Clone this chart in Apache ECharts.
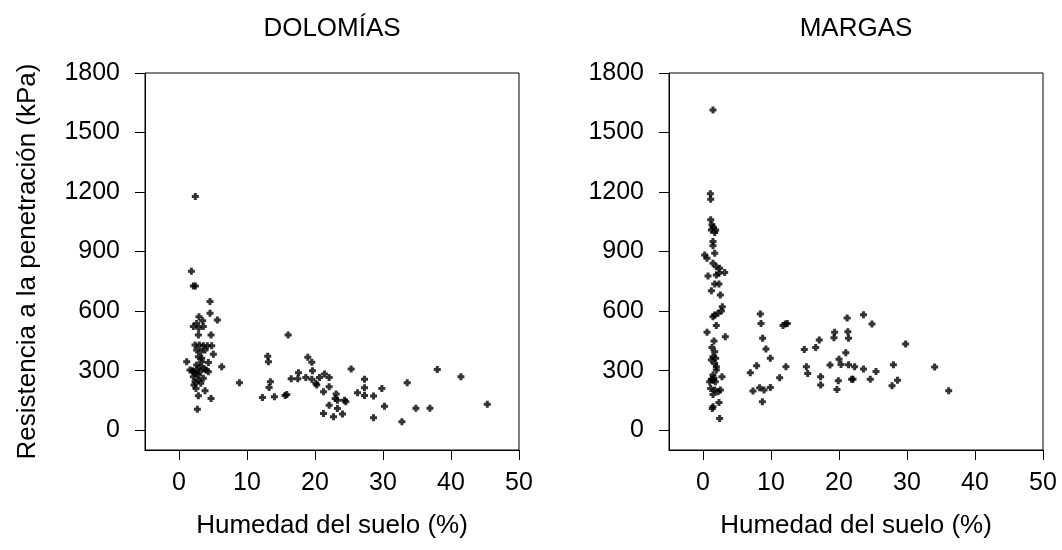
<!DOCTYPE html>
<html>
<head>
<meta charset="utf-8">
<script src="https://cdn.jsdelivr.net/npm/echarts@6/dist/echarts.min.js"></script>
<style>
html,body{margin:0;padding:0;background:#fff;}
#chart{width:1062px;height:550px;}
</style>
</head>
<body>
<div id="chart"></div>
<script>
const panelTitles = ['DOLOMÍAS', 'MARGAS'];
const xAxisTitle = 'Humedad del suelo (%)';
const yAxisTitle = 'Resistencia a la penetración (kPa)';
const xTicks = [0, 10, 20, 30, 40, 50];
const yTicks = [0, 300, 600, 900, 1200, 1500, 1800];

// [humedad %, resistencia kPa]
const dolomias = [
  [2.4,1178],[1.82,801],[2.11,727],[2.4,727],[4.56,648],[4.56,589],[5.64,555],
  [2.94,572],[3.48,552],[2.6,538],[2.11,522],[2.9,513],[3.58,522],[2.85,479],[4.71,479],
  [2.36,429],[2.99,429],[3.58,426],[4.17,426],[4.81,426],[2.6,404],[3.19,395],[3.83,404],
  [5.05,382],[2.85,370],[3.34,362],[1.13,345],[4.32,341],[6.28,320],[2.6,328],[3.09,320],
  [3.68,311],[1.62,303],[2.11,294],[2.6,303],[3.97,303],[4.32,294],[2.11,269],[2.85,278],
  [3.58,261],[2.36,244],[2.85,252],[2.21,227],[2.5,210],[3.83,199],[2.85,173],[4.71,160],
  [2.7,106],[3.09,294],[3.34,345],[2.36,286],[3.2,236],[2.0,300],
  [8.88,239],[12.27,165],[13.05,373],[13.15,345],[13.44,244],[13.25,215],[14.03,168],
  [15.6,175],[15.85,180],[16.05,479],[16.5,259],[17.57,289],[17.47,259],[18.65,266],
  [18.94,367],[19.53,342],[19.63,299],[19.53,256],[20.12,236],[20.26,227],[20.66,266],
  [21.4,283],[22.08,266],[21.25,193],[22.08,219],[23.11,182],[22.96,160],[23.3,151],
  [24.34,151],[24.53,143],[22.08,126],[23.3,109],[21.25,84],[22.72,67],[24.04,81],
  [25.32,308],[26.25,188],[27.28,256],[27.28,214],[27.28,175],[28.61,172],[29.83,210],
  [30.22,121],[28.6,62],[32.78,42],[33.56,239],[34.84,111],[36.9,111],[37.98,306],
  [41.46,269],[45.34,131]
];

const margas = [
  [1.47,1613],[1.08,1191],[1.13,1164],[1.13,1060],[1.32,1035],[1.47,1023],[1.86,1009],
  [1.23,1009],[1.72,996],[1.47,951],[1.47,929],[1.72,892],[0.25,883],[0.59,866],[1.47,841],
  [1.96,824],[2.45,816],[0.74,777],[2.35,791],[3.19,794],[1.96,782],[1.72,737],[2.35,737],
  [1.23,703],[2.55,681],[2.84,622],[2.7,601],[2.21,589],[1.72,580],[1.47,572],[1.96,527],
  [0.59,493],[3.28,471],[1.62,449],[1.32,417],[1.72,395],[1.47,370],[1.86,362],[1.23,353],
  [1.72,336],[1.96,320],[1.96,303],[1.47,278],[2.79,269],[1.23,256],[0.98,244],[1.47,252],
  [1.62,261],[1.81,244],[1.13,210],[1.72,202],[2.55,202],[2.21,193],[1.47,180],[2.35,140],
  [1.47,118],[1.37,109],[2.45,59],
  [6.96,289],[7.35,197],[7.89,325],[8.43,585],[8.53,538],[8.33,214],[8.73,143],[8.97,202],
  [8.77,463],[9.26,409],[9.9,362],[9.9,215],[11.27,264],[11.76,527],[12.1,535],[12.4,538],
  [12.2,320],[14.9,407],[15.2,320],[15.4,286],[16.57,417],[17.1,454],[17.3,269],[17.3,227],
  [18.68,328],[19.36,493],[19.26,466],[19.7,205],[19.9,249],[20,357],[20.3,331],[21,390],
  [21.2,565],[21.3,496],[21.4,463],[21.4,330],[21.86,257],[22.06,257],[22.3,320],[23.6,582],
  [23.6,308],[24.6,257],[24.85,535],[25.44,296],[27.8,224],[28,330],[28.6,251],[29.8,434],
  [34.07,318],[36.13,199]
];

const FONT = '"Liberation Sans", Arial, sans-serif';
const TICK_FS = 25;
const TITLE_FS = 26;
const plus = 'path://M2,0H5V2H7V5H5V7H2V5H0V2H2Z';
const grids = [
  {left: 145, top: 73, width: 374, height: 377},
  {left: 669, top: 73, width: 374, height: 377}
];

function xAx(i) {
  return {
    type: 'value', gridIndex: i, min: -5, max: 50,
    name: xAxisTitle, nameLocation: 'middle', nameGap: 63,
    nameTextStyle: {fontFamily: FONT, fontSize: TITLE_FS, color: '#000'},
    axisLine: {show: true, onZero: false, lineStyle: {color: '#000', width: 1}},
    axisTick: {show: true, inside: false, length: 10, customValues: xTicks, lineStyle: {color: '#000'}},
    axisLabel: {show: true, customValues: xTicks, margin: 21, fontFamily: FONT, fontSize: TICK_FS, color: '#000',
                formatter: v => String(v)},
    splitLine: {show: false}
  };
}
function yAx(i) {
  return {
    type: 'value', gridIndex: i, min: -100, max: 1800,
    name: i === 0 ? yAxisTitle : '', nameLocation: 'middle', nameGap: 104, nameRotate: 90,
    nameTextStyle: {fontFamily: FONT, fontSize: TITLE_FS, color: '#000'},
    axisLine: {show: true, onZero: false, lineStyle: {color: '#000', width: 1}},
    axisTick: {show: true, inside: false, length: 10, customValues: yTicks, lineStyle: {color: '#000'}},
    axisLabel: {show: true, customValues: yTicks, margin: 25, fontFamily: FONT, fontSize: TICK_FS, color: '#000',
                formatter: v => String(v)},
    splitLine: {show: false}
  };
}

const chart = echarts.init(document.getElementById('chart'), null, {renderer: 'canvas'});
chart.setOption({
  backgroundColor: '#fff',
  animation: false,
  grid: grids.map(g => Object.assign({show: true, borderColor: '#000', borderWidth: 1, backgroundColor: 'transparent'}, g)),
  xAxis: [xAx(0), xAx(1)],
  yAxis: [yAx(0), yAx(1)],
  graphic: panelTitles.map((t, i) => ({
    type: 'text',
    x: grids[i].left + grids[i].width / 2,
    y: 29,
    style: {text: t, fontFamily: FONT, fontSize: TITLE_FS, fill: '#000', align: 'center', verticalAlign: 'middle'}
  })),
  series: [
    {type: 'scatter', xAxisIndex: 0, yAxisIndex: 0, data: dolomias, symbol: plus, symbolSize: 7,
     itemStyle: {color: '#000'}},
    {type: 'scatter', xAxisIndex: 1, yAxisIndex: 1, data: margas, symbol: plus, symbolSize: 7,
     itemStyle: {color: '#000'}}
  ]
});
</script>
</body>
</html>
